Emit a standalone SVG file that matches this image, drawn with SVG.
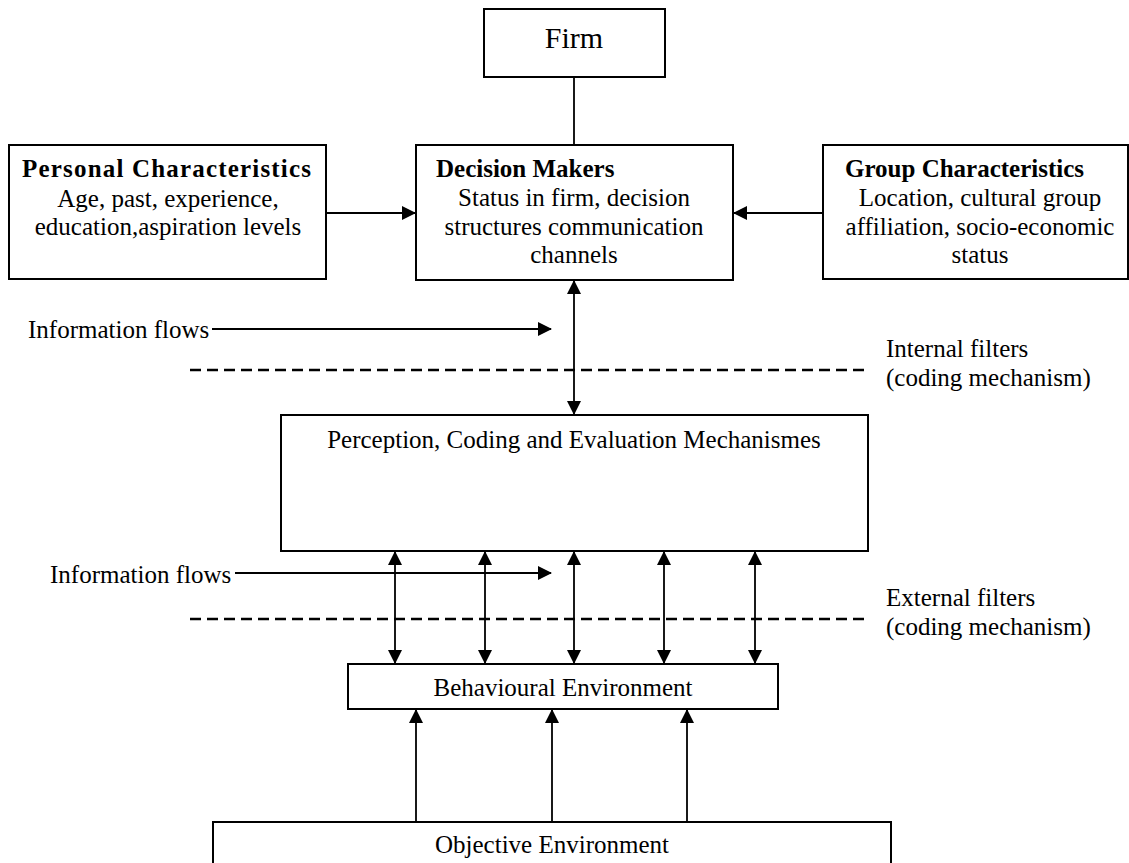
<svg xmlns="http://www.w3.org/2000/svg" width="1129" height="863" viewBox="0 0 1129 863">
<style>
  .box { fill: #fff; stroke: #000; stroke-width: 2; }
  .t { font-family: "Liberation Serif", "Times New Roman", serif; font-size: 25px; fill: #000; }
  .b { font-weight: bold; }
  .c { text-anchor: middle; }
  .ln { stroke: #000; stroke-width: 1.8; fill: none; }
  .dash { stroke: #000; stroke-width: 2.4; stroke-dasharray: 11 6; fill: none; }
</style>
<defs>
  <marker id="arr" markerUnits="userSpaceOnUse" markerWidth="14" markerHeight="14" viewBox="0 0 14 14" refX="13" refY="7" orient="auto-start-reverse">
    <path d="M0,0 L14,7 L0,14 z" fill="#000"/>
  </marker>
</defs>
<rect width="1129" height="863" fill="#fff"/>

<g id="connectors">
  <line class="ln" x1="574" y1="77" x2="574" y2="145"/>
  <line class="ln" x1="326" y1="213" x2="415" y2="213" marker-end="url(#arr)"/>
  <line class="ln" x1="823" y1="213" x2="734" y2="213" marker-end="url(#arr)"/>
  <line class="ln" x1="574" y1="281" x2="574" y2="414" marker-start="url(#arr)" marker-end="url(#arr)"/>
  <line class="ln" x1="212" y1="329" x2="551" y2="329" marker-end="url(#arr)"/>
  <line class="ln" x1="235" y1="573" x2="551" y2="573" marker-end="url(#arr)"/>
  <line class="ln" x1="395" y1="552" x2="395" y2="663" marker-start="url(#arr)" marker-end="url(#arr)"/>
  <line class="ln" x1="485" y1="552" x2="485" y2="663" marker-start="url(#arr)" marker-end="url(#arr)"/>
  <line class="ln" x1="574" y1="552" x2="574" y2="663" marker-start="url(#arr)" marker-end="url(#arr)"/>
  <line class="ln" x1="664" y1="552" x2="664" y2="663" marker-start="url(#arr)" marker-end="url(#arr)"/>
  <line class="ln" x1="755" y1="552" x2="755" y2="663" marker-start="url(#arr)" marker-end="url(#arr)"/>
  <line class="ln" x1="416" y1="822" x2="416" y2="710" marker-end="url(#arr)"/>
  <line class="ln" x1="552" y1="822" x2="552" y2="710" marker-end="url(#arr)"/>
  <line class="ln" x1="687" y1="822" x2="687" y2="710" marker-end="url(#arr)"/>
</g>

<g id="filters">
  <line class="dash" x1="190" y1="370" x2="868" y2="370"/>
  <line class="dash" x1="190" y1="619" x2="868" y2="619"/>
  <text class="t" x="886" y="357">Internal filters</text>
  <text class="t" x="886" y="386">(coding mechanism)</text>
  <text class="t" x="886" y="606">External filters</text>
  <text class="t" x="886" y="635">(coding mechanism)</text>
  <text class="t" x="28" y="338">Information flows</text>
  <text class="t" x="50" y="583">Information flows</text>
</g>

<g id="firm">
  <rect class="box" x="484" y="9" width="181" height="68"/>
  <text class="t c" x="574" y="48" style="font-size:30px">Firm</text>
</g>

<g id="personal">
  <rect class="box" x="9" y="145" width="317" height="134"/>
  <text class="t b" x="22" y="177" textLength="289" lengthAdjust="spacing">Personal Characteristics</text>
  <text class="t c" x="168" y="207">Age, past, experience,</text>
  <text class="t c" x="168" y="235">education,aspiration levels</text>
</g>

<g id="decision">
  <rect class="box" x="416" y="145" width="317" height="135"/>
  <text class="t b" x="436" y="177">Decision Makers</text>
  <text class="t c" x="574" y="206">Status in firm, decision</text>
  <text class="t c" x="574" y="235">structures communication</text>
  <text class="t c" x="574" y="263">channels</text>
</g>

<g id="group">
  <rect class="box" x="823" y="145" width="305" height="134"/>
  <text class="t b" x="845" y="177">Group Characteristics</text>
  <text class="t c" x="980" y="206">Location, cultural group</text>
  <text class="t c" x="980" y="235">affiliation, socio-economic</text>
  <text class="t c" x="980" y="263">status</text>
</g>

<g id="perception">
  <rect class="box" x="281" y="415" width="587" height="136"/>
  <text class="t c" x="574" y="448">Perception, Coding and Evaluation Mechanismes</text>
</g>

<g id="behavioural">
  <rect class="box" x="348" y="664" width="430" height="45"/>
  <text class="t c" x="563" y="696">Behavioural Environment</text>
</g>

<g id="objective">
  <rect class="box" x="213" y="822" width="678" height="60"/>
  <text class="t c" x="552" y="853">Objective Environment</text>
</g>
</svg>
